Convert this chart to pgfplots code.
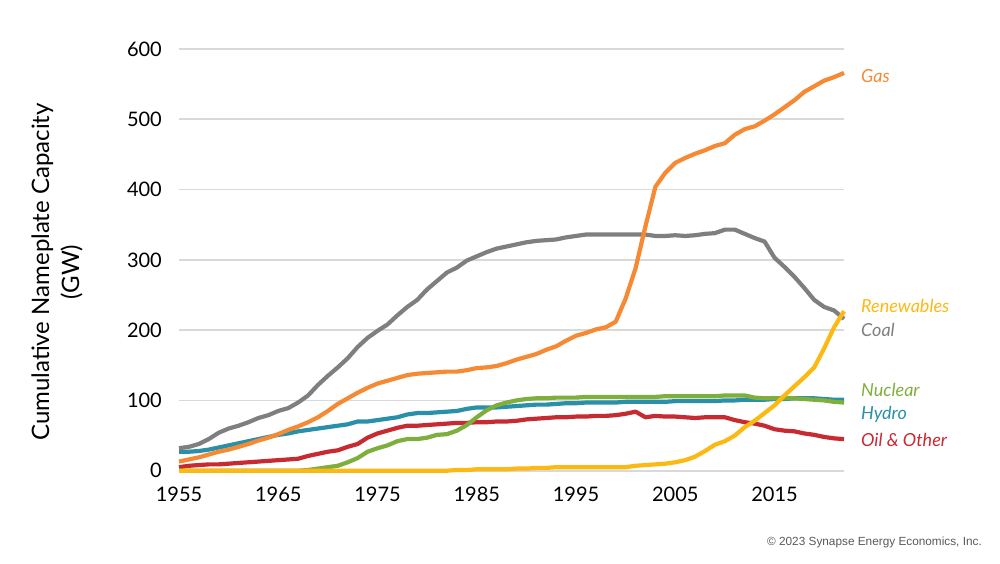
\documentclass[border=0pt]{standalone}
\usepackage{fontspec}
\setmainfont{Lato}
\newfontfamily\arialfont{Liberation Sans}
\usepackage{pgfplots}
\usepackage{pgfplotstable}
\pgfplotsset{compat=1.18}

\definecolor{gasc}{RGB}{245,137,52}
\definecolor{coalc}{RGB}{127,127,127}
\definecolor{renc}{RGB}{252,184,19}
\definecolor{nucc}{RGB}{126,174,60}
\definecolor{hydc}{RGB}{42,143,168}
\definecolor{oilc}{RGB}{200,42,50}
\definecolor{gridc}{RGB}{217,217,217}

% cumulative nameplate capacity, GW
\pgfplotstableread{
year coal gas nuclear hydro oil renew
1955 32 13 0 27 5 0
1956 34 16 0 27 7 0
1957 38 19 0 28 8 0
1958 45 23 0 30 9 0
1959 54 27 0 33 9 0
1960 60 30 0 36 10 0
1961 64 34 0 39 11 0
1962 69 38 0 42 12 0
1963 75 43 0 45 13 0
1964 79 47 0 48 14 0
1965 85 52 0 51 15 0
1966 89 58 0 53 16 0
1967 97 63 0 56 17 0
1968 107 69 1 58 21 0
1969 122 76 3 60 24 0
1970 135 85 5 62 27 0
1971 147 95 7 64 29 0
1972 160 103 12 66 34 0
1973 176 111 18 70 38 0
1974 189 118 27 70 47 0
1975 199 124 32 72 53 0
1976 208 128 36 74 57 0
1977 221 132 42 76 61 0
1978 233 136 45 80 64 0
1979 243 138 45 82 64 0
1980 258 139 47 82 65 0
1981 270 140 51 83 66 0
1982 282 141 52 84 67 0
1983 289 141 57 85 68 1
1984 299 143 65 88 68 1
1985 305 146 76 90 69 2
1986 311 147 86 90 69 2
1987 316 149 93 90 70 2
1988 319 153 97 91 70 2
1989 322 158 100 92 71 3
1990 325 162 102 93 73 3
1991 327 166 103 94 74 4
1992 328 172 103 94 75 4
1993 329 177 104 95 76 5
1994 332 185 104 96 76 5
1995 334 192 104 96 77 5
1996 336 196 105 97 77 5
1997 336 201 105 97 78 5
1998 336 204 105 97 78 5
1999 336 212 105 97 79 5
2000 336 245 105 98 81 5
2001 336 288 105 98 84 7
2002 336 348 105 98 76 8
2003 334 404 105 98 78 9
2004 334 424 106 98 77 10
2005 335 438 106 99 77 12
2006 334 445 106 99 76 15
2007 335 451 106 99 75 20
2008 337 456 106 99 76 28
2009 338 462 106 99 76 37
2010 343 466 107 100 76 42
2011 343 478 107 100 72 50
2012 337 486 107 101 69 62
2013 331 490 104 101 67 71
2014 326 498 103 101 64 82
2015 303 507 103 102 59 93
2016 290 517 103 102 57 107
2017 276 527 103 103 56 120
2018 260 539 102 103 53 133
2019 243 547 101 103 51 147
2020 233 555 100 102 48 174
2021 228 560 98 101 46 204
2022 216 566 97 101 45 227
}\capdata

\begin{document}
\begin{tikzpicture}[x=1pt,y=1pt]
\useasboundingbox (0,0) rectangle (1000,563);
\begin{axis}[
  at={(179pt,92.3pt)}, anchor=south west,
  scale only axis, width=665pt, height=421.7pt,
  xmin=1955, xmax=2022, ymin=0, ymax=600,
  xtick={1955,1965,...,2015}, ytick={0,100,...,600},
  axis line style={draw=none}, major tick length=0pt,
  ymajorgrids, grid style={gridc, line width=1.6pt},
  /pgf/number format/assume math mode=true,
  /pgf/number format/1000 sep={},
  tick label style={font=\fontsize{20}{24}\selectfont, inner sep=0pt},
  yticklabel shift=17pt, xticklabel shift=16pt,
  clip=false,
  every axis plot/.append style={line width=4.2pt, line join=round, no markers},
]
\addplot[oilc] table[x=year, y=oil] {\capdata};
\addplot[hydc] table[x=year, y=hydro] {\capdata};
\addplot[nucc] table[x=year, y=nuclear] {\capdata};
\addplot[coalc] table[x=year, y=coal] {\capdata};
\addplot[gasc] table[x=year, y=gas] {\capdata};
\addplot[renc] table[x=year, y=renew] {\capdata};
\end{axis}
% series labels
\begin{scope}[every node/.style={anchor=west, inner sep=0pt, font=\fontsize{18}{20}\selectfont\itshape}]
\node[text=gasc] at (861,563-76) {Gas};
\node[text=renc] at (861,563-306) {Renewables};
\node[text=coalc] at (861,563-330) {Coal};
\node[text=nucc] at (861,563-390) {Nuclear};
\node[text=hydc] at (861,563-414) {Hydro};
\node[text=oilc] at (861,563-440) {Oil \& Other};
\end{scope}
% y axis title
\node[rotate=90, align=center, inner sep=0pt, font=\fontsize{24}{30}\selectfont] at (57,563-272)
  {Cumulative Nameplate Capacity\\(GW)};
\node[anchor=east, inner sep=0pt, text={rgb,255:red,89;green,89;blue,89}, font=\arialfont\fontsize{11.8}{14}\selectfont] at (982,563-542)
  {\textcopyright{} 2023 Synapse Energy Economics, Inc.};
\end{tikzpicture}
\end{document}
